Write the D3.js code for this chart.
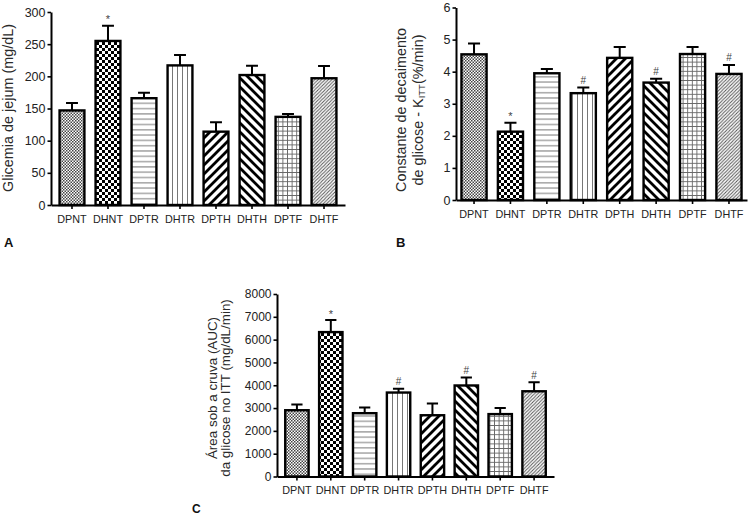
<!DOCTYPE html>
<html>
<head>
<meta charset="utf-8">
<script src="https://cdn.jsdelivr.net/npm/d3@7"></script>
<style>
  html, body { margin: 0; padding: 0; background: #fff; }
  svg { display: block; }
  text { font-family: "Liberation Sans", Arial, sans-serif; fill: #222; }
</style>
</head>
<body>
<svg id="chart" width="750" height="516"></svg>
<script>
// ---------- data ----------
const groups = ["DPNT", "DHNT", "DPTR", "DHTR", "DPTH", "DHTH", "DPTF", "DHTF"];
const patternIds = ["fineCheck", "coarseCheck", "hLines", "vLines", "diagUp", "diagDown", "grid", "fineDiag"];

const glicemiaMean = [147, 255, 166, 217, 114, 202, 137, 197];
const glicemiaErr  = [11.5, 23.5, 8.5, 16, 14.5, 14.5, 4.5, 19];
const glicemiaMark = ["", "*", "", "", "", "", "", ""];
const glicemiaTicks = [0, 50, 100, 150, 200, 250, 300];

const kittMean = [4.54, 2.13, 3.95, 3.33, 4.43, 3.66, 4.55, 3.93];
const kittErr  = [0.34, 0.28, 0.13, 0.18, 0.34, 0.12, 0.22, 0.28];
const kittMark = ["", "*", "", "#", "", "#", "", "#"];
const kittTicks = [0, 1, 2, 3, 4, 5, 6];

const aucMean = [2905, 6330, 2775, 3680, 2685, 3990, 2735, 3736];
const aucErr  = [255, 525, 255, 165, 520, 355, 265, 396];
const aucMark = ["", "*", "", "#", "", "#", "", "#"];
const aucTicks = [0, 1000, 2000, 3000, 4000, 5000, 6000, 7000, 8000];

// ---------- svg + patterns ----------
const svg = d3.select("#chart");
const defs = svg.append("defs");

function pat(id, w, h) {
  const p = defs.append("pattern").attr("id", id)
    .attr("patternUnits", "userSpaceOnUse").attr("width", w).attr("height", h);
  p.append("rect").attr("width", w).attr("height", h).attr("fill", "#fff");
  return p;
}
// fine checker
let p = pat("fineCheck", 3, 3);
p.append("rect").attr("x", 0).attr("y", 0).attr("width", 1.5).attr("height", 1.5).attr("fill", "#444");
p.append("rect").attr("x", 1.5).attr("y", 1.5).attr("width", 1.5).attr("height", 1.5).attr("fill", "#444");
// coarse checker
p = pat("coarseCheck", 6, 6);
p.append("rect").attr("x", 0).attr("y", 0).attr("width", 3).attr("height", 3).attr("fill", "#000");
p.append("rect").attr("x", 3).attr("y", 3).attr("width", 3).attr("height", 3).attr("fill", "#000");
// horizontal lines
p = pat("hLines", 10, 5.3);
p.append("line").attr("x1", 0).attr("x2", 10).attr("y1", 2.6).attr("y2", 2.6).attr("stroke", "#777").attr("stroke-width", 1);
// vertical lines
p = pat("vLines", 5, 10);
p.append("line").attr("y1", 0).attr("y2", 10).attr("x1", 2.5).attr("x2", 2.5).attr("stroke", "#777").attr("stroke-width", 1);
// thick diagonal "/"
p = pat("diagUp", 9, 9);
p.append("path").attr("d", "M-2,11 L11,-2 M-2,2 L2,-2 M7,11 L11,7").attr("stroke", "#000").attr("stroke-width", 2.8);
// thick diagonal "\"
p = pat("diagDown", 9, 9);
p.append("path").attr("d", "M-2,-2 L11,11 M7,-2 L11,2 M-2,7 L2,11").attr("stroke", "#000").attr("stroke-width", 2.8);
// grid
p = pat("grid", 4.6, 4.6);
p.append("path").attr("d", "M0,2.3 H4.6 M2.3,0 V4.6").attr("stroke", "#666").attr("stroke-width", 0.9);
// fine diagonal
p = pat("fineDiag", 3.4, 3.4);
p.append("path").attr("d", "M-1,4.4 L4.4,-1 M-1,1 L1,-1 M2.4,4.4 L4.4,2.4").attr("stroke", "#555").attr("stroke-width", 1);

// ---------- panel drawing ----------
function panel(cfg) {
  const x = d3.scaleBand().domain(groups).range(cfg.xRange)
    .paddingInner(0.31).paddingOuter(cfg.po);
  const y = d3.scaleLinear().domain(cfg.yDomain).range(cfg.yRange);
  const g = svg.append("g");
  const bw = x.bandwidth();

  // bars
  g.selectAll("rect.bar").data(groups).join("rect")
    .attr("class", "bar")
    .attr("x", d => x(d))
    .attr("y", (d, i) => y(cfg.mean[i]))
    .attr("width", bw)
    .attr("height", (d, i) => y(0) - y(cfg.mean[i]))
    .attr("fill", (d, i) => `url(#${patternIds[i]})`)
    .attr("stroke", "#000").attr("stroke-width", 2.4);

  // error bars
  const capW = bw * 0.48;
  g.selectAll("path.err").data(groups).join("path")
    .attr("class", "err")
    .attr("d", (d, i) => {
      const cx = x(d) + bw / 2, top = y(cfg.mean[i] + cfg.err[i]), b = y(cfg.mean[i]);
      return `M${cx},${b} V${top} M${cx - capW / 2},${top} H${cx + capW / 2}`;
    })
    .attr("fill", "none").attr("stroke", "#000").attr("stroke-width", 2);

  // significance marks
  g.selectAll("text.mark").data(groups).join("text")
    .attr("class", "mark")
    .attr("x", d => x(d) + bw / 2)
    .attr("y", (d, i) => y(cfg.mean[i] + cfg.err[i]) - (cfg.mark[i] === "*" ? 2.5 : 3.5))
    .attr("text-anchor", "middle")
    .style("font-size", (d, i) => cfg.mark[i] === "*" ? "11px" : "10px")
    .style("fill", "#444")
    .text((d, i) => cfg.mark[i]);

  // axes
  const yAx = g.append("g").attr("transform", `translate(${cfg.xRange[0]},0)`)
    .call(d3.axisLeft(y).tickValues(cfg.ticks).tickFormat(d3.format("d"))
      .tickSize(3.5).tickSizeOuter(0).tickPadding(2));
  yAx.select(".domain").attr("stroke", "#000").attr("stroke-width", 2);
  yAx.selectAll(".tick line").attr("stroke", "#000").attr("stroke-width", 1.6);
  yAx.selectAll(".tick text").style("font-size", cfg.tickFont).style("font-family", "Liberation Sans, Arial, sans-serif").attr("fill", "#2a2a2a");

  const xAx = g.append("g").attr("transform", `translate(0,${cfg.yRange[0]})`)
    .call(d3.axisBottom(x).tickSize(4).tickSizeOuter(0).tickPadding(6));
  xAx.select(".domain").attr("stroke", "#000").attr("stroke-width", 2);
  xAx.selectAll(".tick line").attr("stroke", "#000").attr("stroke-width", 1.6);
  xAx.selectAll(".tick text").style("font-size", "10.8px").style("font-family", "Liberation Sans, Arial, sans-serif").attr("fill", "#2a2a2a");

  // y title
  cfg.title.forEach((t, k) => {
    const tx = svg.append("text")
      .attr("transform", `translate(${cfg.titleX[k]},${cfg.titleY}) rotate(-90)`)
      .attr("text-anchor", "middle")
      .style("font-size", cfg.titleFont).style("fill", "#2a2a2a");
    if (Array.isArray(t)) {
      t.forEach(seg => {
        const ts = tx.append("tspan").text(seg.s);
        if (seg.sub) ts.style("font-size", "9.5px").attr("dy", 1.5);
        if (seg.up) ts.attr("dy", -1.5);
      });
    } else tx.text(t);
  });

  // panel letter
  svg.append("text").attr("x", cfg.letterX).attr("y", cfg.letterY)
    .style("font-family", "Liberation Sans Narrow, Liberation Sans, Arial, sans-serif")
    .style("font-weight", "bold").style("font-size", cfg.letterFont).style("fill", "#111")
    .text(cfg.letter);
}

panel({
  mean: glicemiaMean, err: glicemiaErr, mark: glicemiaMark, ticks: glicemiaTicks,
  xRange: [51, 345], po: 0.238, yDomain: [0, 300], yRange: [205, 12],
  tickFont: "12.5px", titleFont: "14.4px",
  title: ["Glicemia de jejum (mg/dL)"], titleX: [13], titleY: 108,
  letter: "A", letterX: 4, letterY: 247, letterFont: "13px"
});

panel({
  mean: kittMean, err: kittErr, mark: kittMark, ticks: kittTicks,
  xRange: [456, 747], po: 0.15, yDomain: [0, 6], yRange: [200, 7.5],
  tickFont: "12.5px", titleFont: "14.4px",
  title: ["Constante de decaimento",
          [{s: "de glicose - K"}, {s: "ITT", sub: true}, {s: "(%/min)", up: true}]],
  titleX: [406, 423], titleY: 110,
  letter: "B", letterX: 396, letterY: 247, letterFont: "13px"
});

panel({
  mean: aucMean, err: aucErr, mark: aucMark, ticks: aucTicks,
  xRange: [277, 554], po: 0.243, yDomain: [0, 8000], yRange: [476.5, 294],
  tickFont: "12px", titleFont: "13.4px",
  title: ["Área sob a cruva (AUC)", "da glicose no ITT (mg/dL/min)"],
  titleX: [217, 230], titleY: 388,
  letter: "C", letterX: 192, letterY: 513, letterFont: "12px"
});
</script>
</body>
</html>
